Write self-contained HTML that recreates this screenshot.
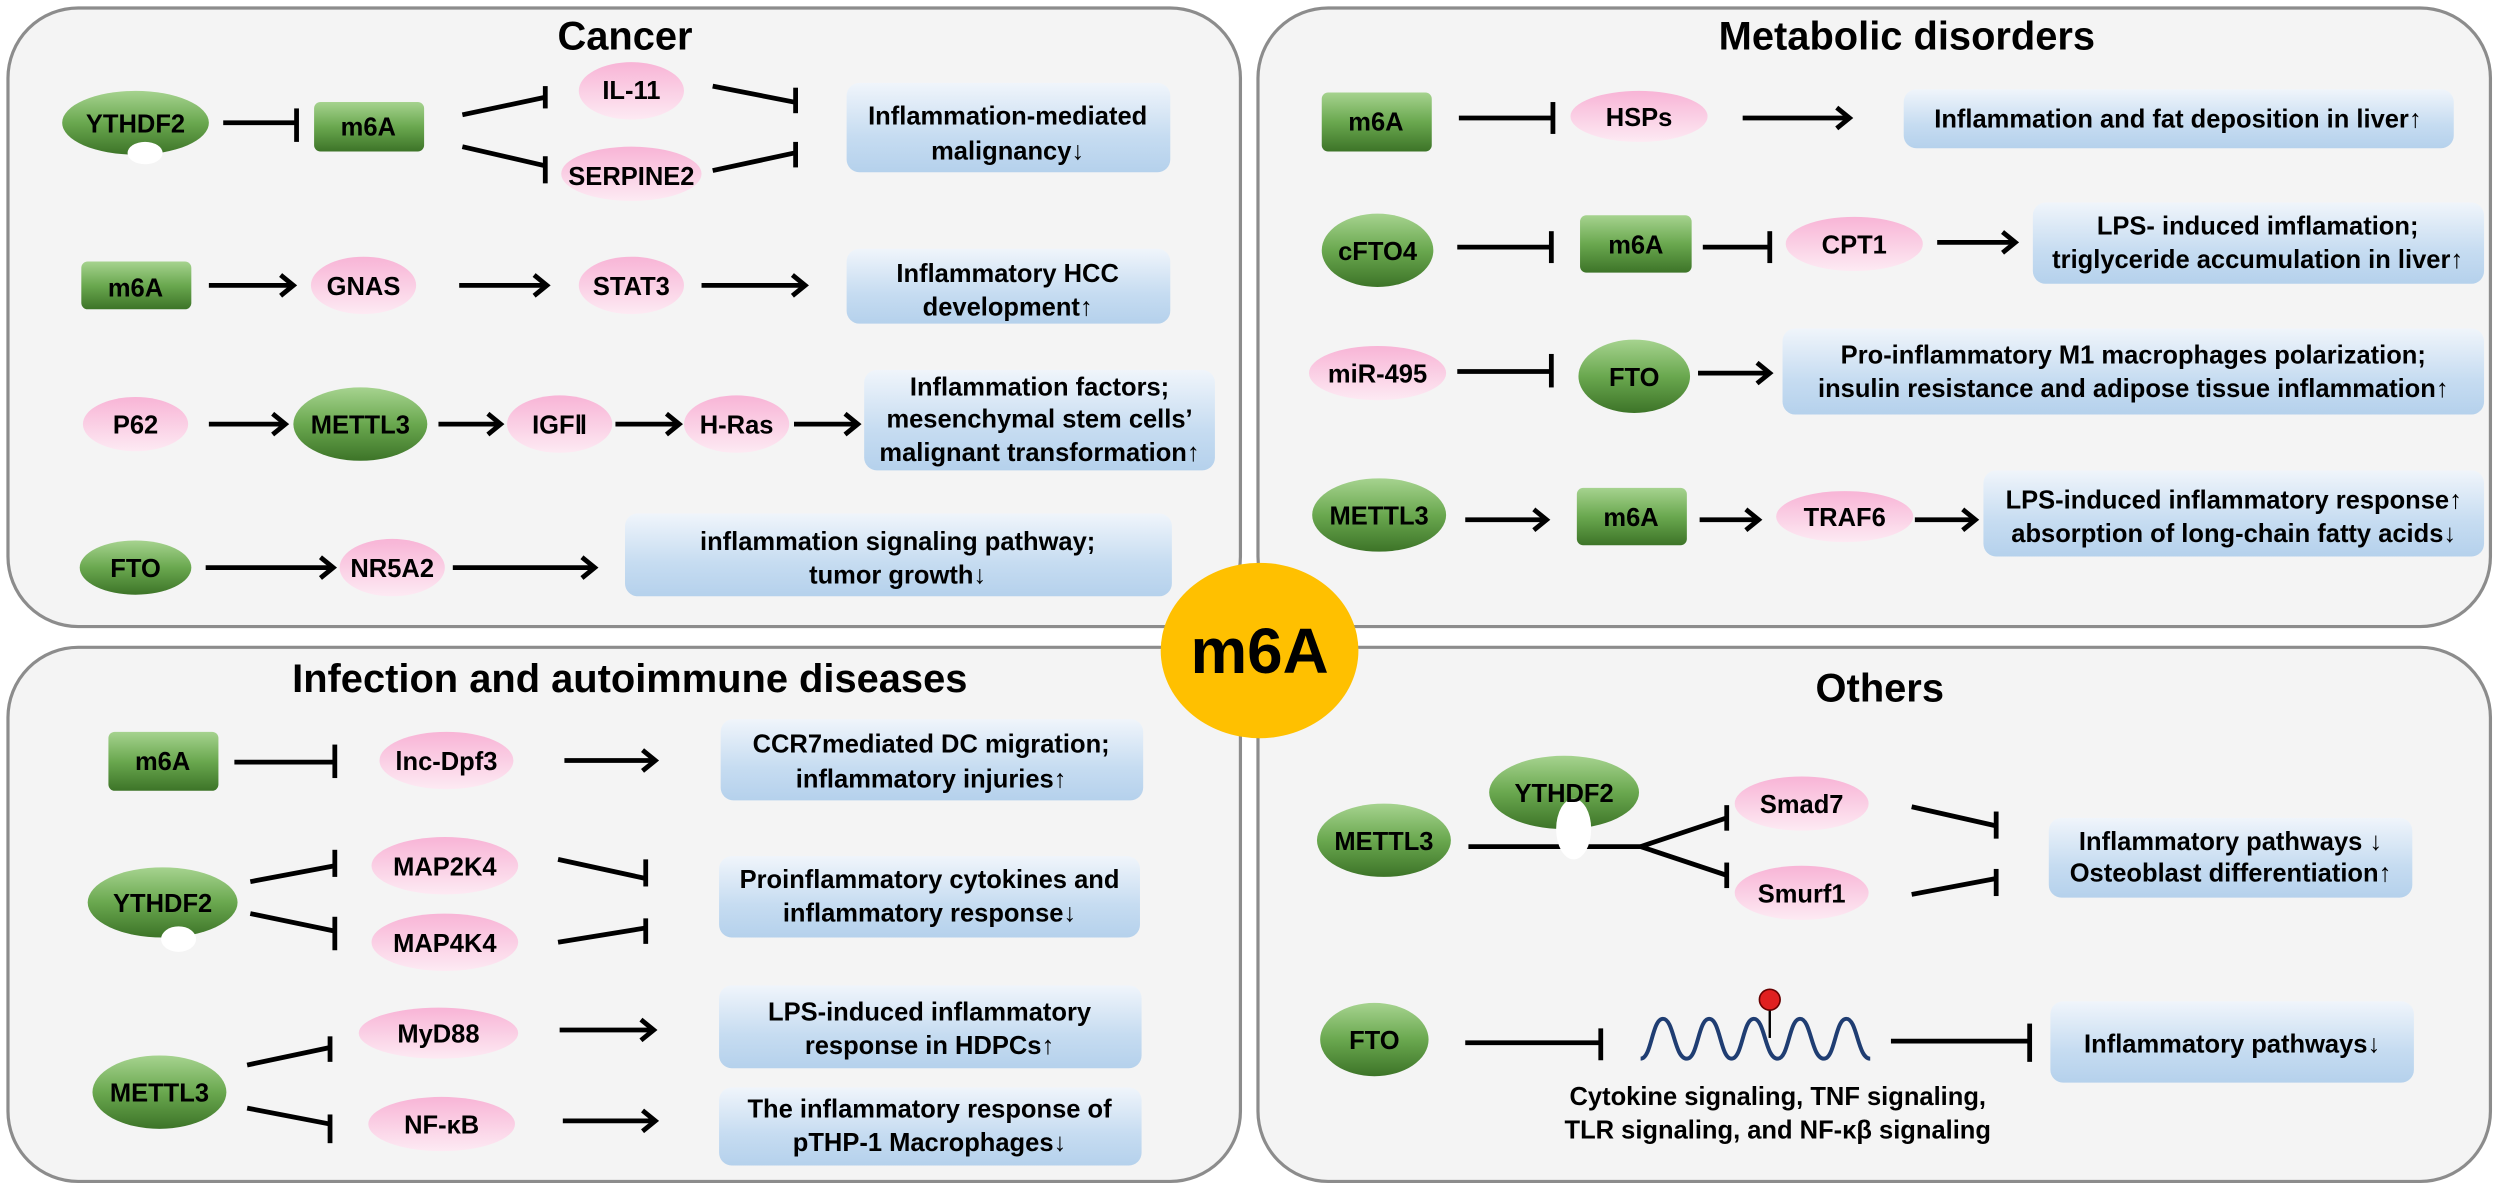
<!DOCTYPE html>
<html><head><meta charset="utf-8"><style>
html,body{margin:0;padding:0;background:#fff;}
svg{display:block;}
text{font-family:"Liberation Sans",Arial,sans-serif;font-weight:bold;fill:#000;}
</style></head><body>
<svg width="2500" height="1191" viewBox="0 0 1568 747" preserveAspectRatio="none" xmlns="http://www.w3.org/2000/svg">
<defs>
<linearGradient id="gG" x1="0" y1="0" x2="0" y2="1"><stop offset="0" stop-color="#a6d38f"/><stop offset="0.5" stop-color="#6aa84f"/><stop offset="1" stop-color="#3d7428"/></linearGradient>
<linearGradient id="gP" x1="0" y1="0" x2="0" y2="1"><stop offset="0" stop-color="#f8b4d6"/><stop offset="1" stop-color="#fdeaf3"/></linearGradient>
<linearGradient id="gB" x1="0" y1="0" x2="0" y2="1"><stop offset="0" stop-color="#f0f5fb"/><stop offset="0.6" stop-color="#c6dcf1"/><stop offset="1" stop-color="#b5d1ec"/></linearGradient>
<marker id="a" markerWidth="14" markerHeight="16" refX="11" refY="8" orient="auto" markerUnits="userSpaceOnUse"><path d="M3,1.5 L11,8 L3,14.5" fill="none" stroke="#000" stroke-width="3"/></marker>
</defs>
<rect width="1568" height="747" fill="#fff"/>
<g fill="#f4f4f4" stroke="#8c8c8c" stroke-width="2">
<rect x="5" y="5" width="773" height="388" rx="44" ry="44"/>
<rect x="789" y="5" width="773" height="388" rx="44" ry="44"/>
<rect x="5" y="406" width="773" height="335" rx="44" ry="44"/>
<rect x="789" y="406" width="773" height="335" rx="44" ry="44"/>
</g>
<ellipse cx="790" cy="408" rx="62" ry="55" fill="#ffc000"/>
<text x="790" y="422" font-size="40" text-anchor="middle">m6A</text>

<g font-size="25" text-anchor="middle">
<text x="392" y="31">Cancer</text>
<text x="1196" y="31">Metabolic disorders</text>
<text x="395" y="434">Infection and autoimmune diseases</text>
<text x="1179" y="440">Others</text>
</g>

<!-- ============ METABOLIC (shifted) ============ -->
<g transform="translate(159,0)">
<g stroke="#000" stroke-width="3" fill="none">
<line x1="756" y1="74" x2="815" y2="74"/><line x1="815" y1="64" x2="815" y2="84"/>
<line x1="934" y1="74" x2="1001" y2="74" marker-end="url(#a)"/>
<line x1="755" y1="155" x2="814" y2="155"/><line x1="814" y1="145" x2="814" y2="165"/>
<line x1="909" y1="155" x2="951" y2="155"/><line x1="951" y1="145" x2="951" y2="165"/>
<line x1="1056" y1="152" x2="1105" y2="152" marker-end="url(#a)"/>
<line x1="755" y1="233" x2="814" y2="233"/><line x1="814" y1="222" x2="814" y2="243"/>
<line x1="906" y1="234" x2="951" y2="234" marker-end="url(#a)"/>
<line x1="760" y1="326" x2="811" y2="326" marker-end="url(#a)"/>
<line x1="907" y1="326" x2="944" y2="326" marker-end="url(#a)"/>
<line x1="1042" y1="326" x2="1080" y2="326" marker-end="url(#a)"/>
</g>
<g fill="url(#gG)">
<ellipse cx="705" cy="157" rx="35" ry="23"/>
<ellipse cx="866" cy="236" rx="35" ry="23"/>
<ellipse cx="706" cy="323" rx="42" ry="23"/>
<rect x="670" y="58" width="69" height="37" rx="4"/>
<rect x="832" y="135" width="70" height="36" rx="4"/>
<rect x="830" y="306" width="69" height="36" rx="4"/>
</g>
<g fill="url(#gP)">
<ellipse cx="869" cy="73" rx="43" ry="16"/>
<ellipse cx="1004" cy="153" rx="43" ry="17"/>
<ellipse cx="705" cy="234" rx="43" ry="17"/>
<ellipse cx="998" cy="324" rx="43" ry="16"/>
</g>
<g fill="url(#gB)">
<rect x="1035" y="56" width="345" height="37" rx="8"/>
<rect x="1116" y="127" width="283" height="51" rx="8"/>
<rect x="959" y="206" width="440" height="54" rx="8"/>
<rect x="1085" y="295" width="314" height="54" rx="8"/>
</g>
<g font-size="16" text-anchor="middle">
<text x="704" y="82">m6A</text>
<text x="869" y="79">HSPs</text>
<text x="705" y="163">cFTO4</text>
<text x="867" y="159">m6A</text>
<text x="1004" y="159">CPT1</text>
<text x="705" y="240">miR-495</text>
<text x="866" y="242">FTO</text>
<text x="706" y="329">METTL3</text>
<text x="864" y="330">m6A</text>
<text x="998" y="330">TRAF6</text>
<text x="1207" y="80">Inflammation and fat deposition in liver↑</text>
<text x="1257" y="147">LPS- induced imflamation;</text>
<text x="1257" y="168">triglyceride accumulation in liver↑</text>
<text x="1179" y="228">Pro-inflammatory M1 macrophages polarization;</text>
<text x="1179" y="249">insulin resistance and adipose tissue inflammation↑</text>
<text x="1242" y="319">LPS-induced inflammatory response↑</text>
<text x="1242" y="340">absorption of long-chain fatty acids↓</text>
</g>
</g>

<g stroke="#000" stroke-width="3" fill="none">
<!-- Cancer -->
<line x1="140" y1="77" x2="186" y2="77"/><line x1="186" y1="68" x2="186" y2="89"/>
<line x1="290" y1="72" x2="342" y2="61"/><line x1="342" y1="54" x2="342" y2="68"/>
<line x1="290" y1="92" x2="342" y2="104"/><line x1="342" y1="98" x2="342" y2="115"/>
<line x1="447" y1="54" x2="498" y2="64"/><line x1="499" y1="55" x2="499" y2="71"/>
<line x1="447" y1="107" x2="498" y2="96"/><line x1="499" y1="89" x2="499" y2="105"/>
<line x1="131" y1="179" x2="184" y2="179" marker-end="url(#a)"/>
<line x1="288" y1="179" x2="343" y2="179" marker-end="url(#a)"/>
<line x1="440" y1="179" x2="505" y2="179" marker-end="url(#a)"/>
<line x1="131" y1="266" x2="179" y2="266" marker-end="url(#a)"/>
<line x1="275" y1="266" x2="314" y2="266" marker-end="url(#a)"/>
<line x1="386" y1="266" x2="426" y2="266" marker-end="url(#a)"/>
<line x1="498" y1="266" x2="538" y2="266" marker-end="url(#a)"/>
<line x1="129" y1="356" x2="209" y2="356" marker-end="url(#a)"/>
<line x1="284" y1="356" x2="373" y2="356" marker-end="url(#a)"/>
<!-- Infection -->
<line x1="147" y1="478" x2="210" y2="478"/><line x1="210" y1="467" x2="210" y2="488"/>
<line x1="354" y1="477" x2="411" y2="477" marker-end="url(#a)"/>
<line x1="157" y1="553" x2="210" y2="543"/><line x1="210" y1="533" x2="210" y2="550"/>
<line x1="157" y1="573" x2="210" y2="584"/><line x1="210" y1="575" x2="210" y2="596"/>
<line x1="350" y1="539" x2="405" y2="551"/><line x1="405" y1="539" x2="405" y2="556"/>
<line x1="350" y1="591" x2="405" y2="582"/><line x1="405" y1="576" x2="405" y2="592"/>
<line x1="155" y1="668" x2="207" y2="657"/><line x1="207" y1="650" x2="207" y2="666"/>
<line x1="155" y1="695" x2="207" y2="705"/><line x1="207" y1="699" x2="207" y2="717"/>
<line x1="351" y1="646" x2="410" y2="646" marker-end="url(#a)"/>
<line x1="353" y1="703" x2="411" y2="703" marker-end="url(#a)"/>
<!-- Others -->
<line x1="921" y1="531" x2="1029" y2="531"/>
<line x1="1029" y1="531" x2="1083" y2="513"/><line x1="1083" y1="505" x2="1083" y2="521"/>
<line x1="1029" y1="531" x2="1083" y2="549"/><line x1="1083" y1="541" x2="1083" y2="557"/>
<line x1="1199" y1="506" x2="1252" y2="518"/><line x1="1252" y1="509" x2="1252" y2="526"/>
<line x1="1199" y1="561" x2="1252" y2="551"/><line x1="1252" y1="545" x2="1252" y2="562"/>
<line x1="919" y1="654" x2="1004" y2="654"/><line x1="1004" y1="645" x2="1004" y2="665"/>
<line x1="1186" y1="653" x2="1273" y2="653"/><line x1="1273" y1="642" x2="1273" y2="666"/>
</g>

<g fill="url(#gG)">
<ellipse cx="85" cy="77" rx="46" ry="20"/>
<ellipse cx="226" cy="266" rx="42" ry="23"/>
<ellipse cx="85" cy="356" rx="35" ry="17"/>
<ellipse cx="102" cy="566" rx="47" ry="22"/>
<ellipse cx="100" cy="685" rx="42" ry="23"/>
<ellipse cx="981" cy="497" rx="47" ry="23"/>
<ellipse cx="868" cy="527" rx="42" ry="23"/>
<ellipse cx="862" cy="652" rx="34" ry="23"/>
<rect x="197" y="64" width="69" height="31" rx="4"/>
<rect x="51" y="164" width="69" height="30" rx="4"/>
<rect x="68" y="459" width="69" height="37" rx="4"/>
</g>
<g fill="#fff">
<ellipse cx="91" cy="96" rx="11" ry="7"/>
<ellipse cx="112" cy="589" rx="11" ry="8"/>
<ellipse cx="987" cy="520" rx="11" ry="19"/>
</g>
<g fill="url(#gP)">
<ellipse cx="396" cy="57" rx="33" ry="18"/>
<ellipse cx="396" cy="109" rx="44" ry="17"/>
<ellipse cx="228" cy="179" rx="33" ry="18"/>
<ellipse cx="396" cy="179" rx="33" ry="18"/>
<ellipse cx="85" cy="266" rx="33" ry="17"/>
<ellipse cx="351" cy="266" rx="33" ry="18"/>
<ellipse cx="462" cy="266" rx="33" ry="18"/>
<ellipse cx="246" cy="356" rx="33" ry="18"/>
<ellipse cx="280" cy="477" rx="42" ry="18"/>
<ellipse cx="279" cy="543" rx="46" ry="18"/>
<ellipse cx="279" cy="591" rx="46" ry="18"/>
<ellipse cx="275" cy="648" rx="50" ry="16"/>
<ellipse cx="277" cy="705" rx="46" ry="17"/>
<ellipse cx="1130" cy="504" rx="42" ry="17"/>
<ellipse cx="1130" cy="560" rx="42" ry="17"/>
</g>
<g fill="url(#gB)">
<rect x="531" y="52" width="203" height="56" rx="8"/>
<rect x="531" y="156" width="203" height="47" rx="8"/>
<rect x="542" y="232" width="220" height="63" rx="8"/>
<rect x="392" y="322" width="343" height="52" rx="8"/>
<rect x="452" y="451" width="265" height="51" rx="8"/>
<rect x="451" y="537" width="264" height="51" rx="8"/>
<rect x="451" y="618" width="265" height="52" rx="8"/>
<rect x="451" y="682" width="265" height="49" rx="8"/>
<rect x="1285" y="513" width="228" height="50" rx="8"/>
<rect x="1286" y="628" width="228" height="51" rx="8"/>
</g>

<path d="M1029,664 C1036,664 1036,639 1043,639 C1050,639 1050,664 1058,664 C1065,664 1065,639 1072,639 C1079,639 1079,664 1086,664 C1093,664 1093,639 1100,639 C1107,639 1107,664 1115,664 C1122,664 1122,639 1129,639 C1136,639 1136,664 1144,664 C1151,664 1151,639 1158,639 C1165,639 1165,664 1173,664" fill="none" stroke="#1f3d72" stroke-width="2.5"/>
<line x1="1110" y1="627" x2="1110" y2="651" stroke="#000" stroke-width="1.5"/>
<circle cx="1110" cy="627" r="6.5" fill="#e02020" stroke="#600" stroke-width="1"/>

<g font-size="16" text-anchor="middle">
<text x="85" y="83">YTHDF2</text>
<text x="231" y="85">m6A</text>
<text x="396" y="62">IL-11</text>
<text x="396" y="116">SERPINE2</text>
<text x="85" y="186">m6A</text>
<text x="228" y="185">GNAS</text>
<text x="396" y="185">STAT3</text>
<text x="85" y="272">P62</text>
<text x="226" y="272">METTL3</text>
<text x="351" y="272">IGFⅡ</text>
<text x="462" y="272">H-Ras</text>
<text x="85" y="362">FTO</text>
<text x="246" y="362">NR5A2</text>
<text x="102" y="483">m6A</text>
<text x="280" y="483">lnc-Dpf3</text>
<text x="102" y="572">YTHDF2</text>
<text x="279" y="549">MAP2K4</text>
<text x="279" y="597">MAP4K4</text>
<text x="100" y="691">METTL3</text>
<text x="275" y="654">MyD88</text>
<text x="277" y="711">NF-κB</text>
<text x="981" y="503">YTHDF2</text>
<text x="868" y="533">METTL3</text>
<text x="1130" y="510">Smad7</text>
<text x="1130" y="566">Smurf1</text>
<text x="862" y="658">FTO</text>
</g>
<g font-size="16" text-anchor="middle">
<text x="632" y="78">Inflammation-mediated</text>
<text x="632" y="100">malignancy↓</text>
<text x="632" y="177">Inflammatory HCC</text>
<text x="632" y="198">development↑</text>
<text x="652" y="248">Inflammation factors;</text>
<text x="652" y="268">mesenchymal stem cells’</text>
<text x="652" y="289">malignant transformation↑</text>
<text x="563" y="345">inflammation signaling pathway;</text>
<text x="563" y="366">tumor growth↓</text>
<text x="584" y="472">CCR7mediated DC migration;</text>
<text x="584" y="494">inflammatory injuries↑</text>
<text x="583" y="557">Proinflammatory cytokines and</text>
<text x="583" y="578">inflammatory response↓</text>
<text x="583" y="640">LPS-induced inflammatory</text>
<text x="583" y="661">response  in HDPCs↑</text>
<text x="583" y="701">The inflammatory response of</text>
<text x="583" y="722">pTHP-1 Macrophages↓</text>
<text x="1399" y="533">Inflammatory pathways ↓</text>
<text x="1399" y="553">Osteoblast differentiation↑</text>
<text x="1400" y="660">Inflammatory pathways↓</text>
<text x="1115" y="693">Cytokine signaling, TNF signaling,</text>
<text x="1115" y="714">TLR signaling, and NF-κβ signaling</text>
</g>
</svg>
</body></html>
